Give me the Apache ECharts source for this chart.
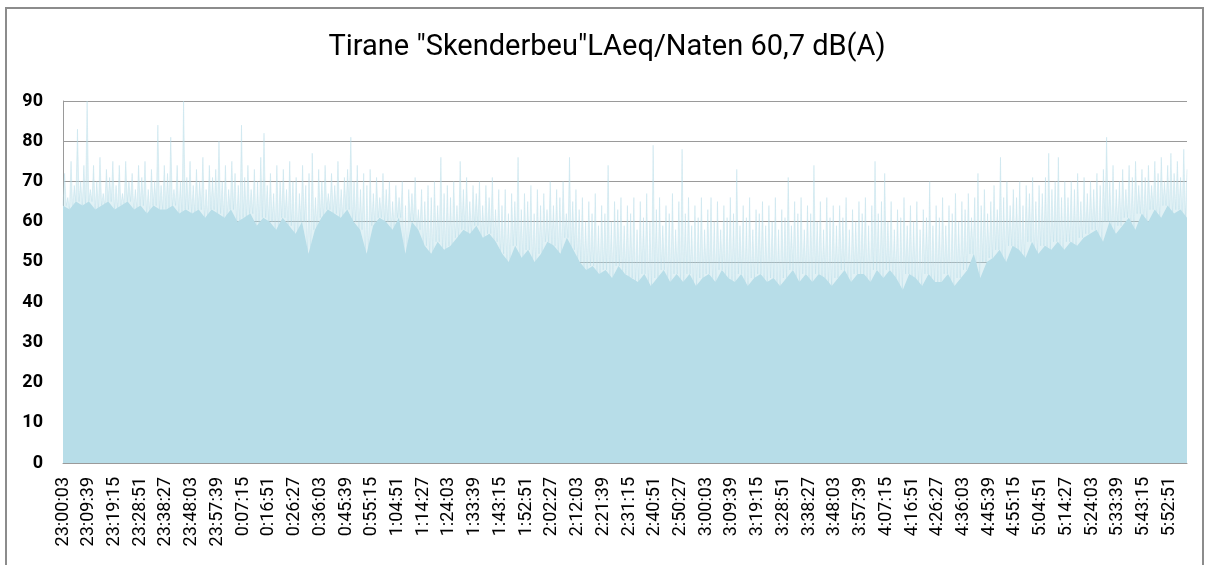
<!DOCTYPE html>
<html>
<head>
<meta charset="utf-8">
<title>Tirane Skenderbeu LAeq</title>
<script src="https://cdn.jsdelivr.net/npm/echarts@6/dist/echarts.min.js"></script>
<style>
    html, body { margin: 0; padding: 0; background: #ffffff; }
    #chart { width: 1214px; height: 565px; }
</style>
</head>
<body>
<div id="chart"></div>
<script>
// x axis tick labels, one every 9:36
const tickLabels = [
    '23:00:03', '23:09:39', '23:19:15', '23:28:51', '23:38:27', '23:48:03', '23:57:39',
    '0:07:15', '0:16:51', '0:26:27', '0:36:03', '0:45:39', '0:55:15', '1:04:51',
    '1:14:27', '1:24:03', '1:33:39', '1:43:15', '1:52:51', '2:02:27', '2:12:03',
    '2:21:39', '2:31:15', '2:40:51', '2:50:27', '3:00:03', '3:09:39', '3:19:15',
    '3:28:51', '3:38:27', '3:48:03', '3:57:39', '4:07:15', '4:16:51', '4:26:27',
    '4:36:03', '4:45:39', '4:55:15', '5:04:51', '5:14:27', '5:24:03', '5:33:39',
    '5:43:15', '5:52:51'
];

// LAeq spike tops (dB), 8 readings per tick interval
const peakLevels = [
    72, 66, 75, 69, 83, 70, 74, 90,
    68, 74, 70, 76, 67, 73, 71, 75,
    69, 74, 67, 75, 70, 72, 68, 74,
    71, 75, 68, 73, 70, 84, 69, 74,
    72, 81, 68, 74, 70, 90, 71, 75,
    69, 73, 70, 76, 68, 74, 71, 73,
    80, 70, 74, 68, 75, 72, 69, 84,
    71, 74, 68, 73, 70, 76, 82, 69,
    72, 67, 74, 70, 73, 68, 75, 70,
    71, 67, 74, 69, 72, 77, 66, 73,
    70, 74, 67, 72, 69, 75, 68, 71,
    73, 81, 70, 74, 68, 72, 69, 73,
    67, 71, 66, 72, 68, 70, 65, 69,
    66, 70, 64, 68, 67, 71, 63, 68,
    65, 69, 66, 70, 64, 76, 67, 69,
    66, 70, 64, 75, 68, 71, 65, 69,
    67, 70, 64, 69, 66, 71, 63, 68,
    64, 68, 62, 67, 65, 76, 63, 67,
    65, 69, 62, 68, 64, 67, 63, 70,
    64, 68, 66, 70, 62, 76, 65, 68,
    63, 66, 60, 65, 62, 67, 59, 64,
    62, 74, 60, 65, 63, 66, 59, 64,
    62, 66, 58, 65, 61, 67, 60, 79,
    63, 66, 59, 64, 62, 67, 58, 65,
    78, 62, 66, 59, 64, 61, 66, 58,
    63, 66, 60, 65, 58, 64, 61, 66,
    62, 73, 59, 64, 61, 66, 58, 63,
    62, 65, 59, 64, 60, 66, 58, 63,
    61, 71, 59, 65, 62, 66, 58, 64,
    62, 74, 60, 65, 58, 66, 61, 64,
    59, 64, 61, 66, 58, 63, 60, 65,
    62, 66, 59, 64, 75, 62, 65, 72,
    60, 65, 58, 63, 61, 66, 59, 64,
    60, 65, 58, 63, 61, 70, 59, 64,
    61, 66, 59, 64, 62, 67, 60, 65,
    63, 67, 61, 66, 72, 64, 68, 62,
    65, 69, 63, 76, 66, 70, 64, 68,
    66, 70, 64, 69, 67, 71, 65, 69,
    67, 71, 77, 68, 70, 76, 66, 70,
    66, 70, 68, 72, 65, 71, 67, 70,
    68, 72, 69, 73, 81, 70, 74, 68,
    70, 73, 68, 74, 71, 75, 69, 73,
    71, 74, 69, 75, 72, 76, 70, 74,
    77, 72, 75, 71, 78, 73
];

// background level between spikes (dB), 4 readings per tick interval
const floorLevels = [
    64, 63, 65, 64,  65, 63, 64, 65,  63, 64, 65, 63,  64, 62, 64, 63,
    63, 64, 62, 63,  62, 63, 61, 63,  62, 61, 63, 60,  61, 62, 59, 61,
    60, 58, 61, 59,  57, 60, 52, 58,  61, 63, 62, 61,  63, 60, 58, 52,
    59, 61, 60, 58,  61, 52, 60, 58,  54, 52, 55, 53,  54, 56, 58, 57,
    59, 56, 57, 55,  52, 50, 54, 51,  53, 50, 52, 55,  54, 52, 56, 53,
    50, 48, 49, 47,  48, 46, 49, 47,  46, 45, 47, 44,  46, 48, 45, 47,
    45, 47, 44, 46,  47, 45, 48, 46,  45, 47, 44, 46,  47, 45, 46, 44,
    46, 48, 45, 47,  45, 47, 46, 44,  46, 48, 45, 47,  47, 45, 48, 46,
    48, 46, 43, 47,  46, 44, 47, 45,  45, 47, 44, 46,  48, 52, 46, 50,
    51, 53, 50, 54,  53, 51, 55, 52,  54, 53, 55, 53,  55, 54, 56, 57,
    58, 55, 60, 57,  59, 61, 58, 62,  60, 63, 61, 64,  62, 63, 61
];

// each spike top is preceded by the background level it rises from
const pointsPerTick = 16;
const traceLevels = [];
peakLevels.forEach((top, i) => {
    traceLevels.push(floorLevels[Math.floor(i / 2)]);
    traceLevels.push(top);
});
const categories = traceLevels.map((v, i) =>
    i % pointsPerTick === 0 ? (tickLabels[i / pointsPerTick] || '') : '');
const floorCategories = floorLevels.map((v, i) => String(i));

const chart = echarts.init(document.getElementById('chart'));
const option = {
    animation: false,
    backgroundColor: '#ffffff',
    title: {
        text: 'Tirane "Skenderbeu"LAeq/Naten 60,7 dB(A)',
        left: 'center',
        top: 28,
        textStyle: {
            fontFamily: 'Roboto',
            fontSize: 29,
            fontWeight: 'normal',
            color: '#000000'
        }
    },
    graphic: [{
        type: 'rect',
        shape: { x: 6, y: 8, width: 1197, height: 570 },
        style: { fill: 'none', stroke: '#8c8c8c', lineWidth: 2 },
        silent: true
    }],
    grid: {
        left: 63,
        right: 27,
        top: 101,
        bottom: 102
    },
    xAxis: [
        {
            type: 'category',
            data: categories,
            boundaryGap: false,
            axisLine: { lineStyle: { color: '#9a9a9a', width: 1 } },
            axisTick: { show: false },
            axisLabel: {
                interval: function (index) { return index % pointsPerTick === 0; },
                rotate: 90,
                margin: 14,
                fontFamily: 'Roboto',
                fontSize: 18,
                color: '#000000'
            },
            splitLine: { show: false }
        },
        {
            type: 'category',
            data: floorCategories,
            boundaryGap: false,
            show: false
        }
    ],
    yAxis: {
        type: 'value',
        min: 0,
        max: 90,
        interval: 10,
        axisLine: { show: true, lineStyle: { color: '#9a9a9a', width: 1 } },
        axisTick: { show: false },
        axisLabel: {
            margin: 20,
            fontFamily: 'Roboto',
            fontWeight: 'bold',
            fontSize: 18,
            color: '#000000'
        },
        splitLine: { lineStyle: { color: '#9a9a9a', width: 1 } }
    },
    series: [
        {
            name: 'LAeq',
            type: 'line',
            xAxisIndex: 0,
            data: traceLevels,
            symbol: 'none',
            lineStyle: { width: 0.5, color: 'rgba(183, 221, 232, 0.8)' },
            areaStyle: { color: 'rgba(183, 221, 232, 0.6)' },
            z: 2
        },
        {
            name: 'Floor',
            type: 'line',
            xAxisIndex: 1,
            data: floorLevels,
            symbol: 'none',
            lineStyle: { width: 0 },
            areaStyle: { color: '#b7dde8', opacity: 1 },
            z: 3
        }
    ]
};
chart.setOption(option);
</script>
</body>
</html>
